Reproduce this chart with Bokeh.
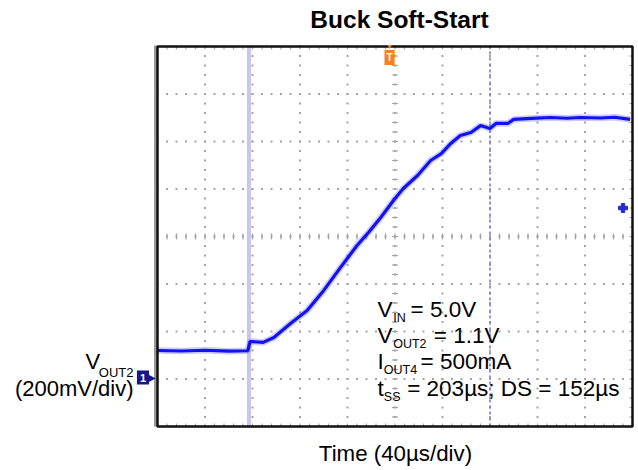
import numpy as np
from bokeh.plotting import figure
from bokeh.models import Range1d, Label, ColumnDataSource
from bokeh.embed import file_html
from bokeh.resources import INLINE

# ---------------- data (read from the scope capture) ----------------
title_text = "Buck Soft-Start"
x_label_text = "Time (40µs/div)"
ch_label_main = "V"
ch_label_sub = "OUT2"
ch_scale_text = "(200mV/div)"

# time in µs relative to screen centre, 40 µs/div, 10 divisions
t_min, t_max, t_div = -200.0, 200.0, 40.0
# volts, 200 mV/div, 8 divisions, ground one division above bottom
v_min, v_max, v_div = -0.2, 1.4, 0.2

time_us = [-200, -180, -160, -140, -124, -122, -111, -102, -88, -74, -60, -46,
           -32, -23, -12, 0, 7, 19, 30, 39, 47, 55, 64, 72, 80, 85, 95, 100,
           115, 131, 145, 156, 173, 185, 198]
v_out2 = [0.120, 0.118, 0.121, 0.117, 0.119, 0.158, 0.154, 0.175, 0.234, 0.288,
          0.373, 0.469, 0.562, 0.613, 0.680, 0.760, 0.802, 0.857, 0.920, 0.949,
          0.992, 1.025, 1.038, 1.067, 1.055, 1.076, 1.076, 1.093, 1.097, 1.101,
          1.098, 1.101, 1.099, 1.102, 1.093]

cursor_start_us = -123.0   # soft-start begins (shaded cursor)
cursor_end_us = 80.0       # soft-start ends (dashed cursor)
trigger_time_us = -4.6     # orange trigger-position marker
trigger_level = [0.72]     # blue trigger-level marker (right side)
trigger_level_t = [192.0]
ground_level = 0.0

note_lines = [
    ("V", "IN", "= 5.0V"),
    ("V", "OUT2", "= 1.1V"),
    ("I", "OUT4", "= 500mA"),
    ("t", "SS", "= 203µs; DS = 152µs"),
]

# ---------------- layout ----------------
FONT = "Liberation Sans"
W, H = 636, 468
PX_DIV = 47.5
GRAT_LEFT, GRAT_TOP = 157.0, 46.0
px_per_us = PX_DIV / t_div
px_per_v = PX_DIV / v_div
BASELINE_FIX = 0.36   # em, compensates the label baseline placement

x_start = t_min - GRAT_LEFT / px_per_us
x_end = x_start + W / px_per_us
y_end = v_max + GRAT_TOP / px_per_v
y_start = y_end - H / px_per_v

p = figure(width=W, height=H,
           x_range=Range1d(x_start, x_end), y_range=Range1d(y_start, y_end),
           x_axis_type=None, y_axis_type=None,
           toolbar_location=None, output_backend="svg",
           min_border=0, min_border_left=0, min_border_right=0,
           min_border_top=0, min_border_bottom=0)
p.title = None
p.background_fill_color = "white"
p.border_fill_color = "white"
p.outline_line_color = None

GRID_COLOR = "#a4a4a4"
major_t = np.arange(t_min + t_div, t_max - 1e-6, t_div)
major_v = np.arange(v_min + v_div, v_max - 1e-6, v_div)
minor_t = np.arange(t_min, t_max + 1e-6, t_div / 5)
minor_v = np.arange(v_min, v_max + 1e-6, v_div / 5)

# dotted graticule: one dot per minor division along each major line
gx1, gy1 = np.meshgrid(major_t, minor_v)
gx2, gy2 = np.meshgrid(minor_t, major_v)
dots_x = np.concatenate([gx1.ravel(), gx2.ravel()])
dots_y = np.concatenate([gy1.ravel(), gy2.ravel()])
p.scatter(dots_x, dots_y, marker="square", size=2, color=GRID_COLOR,
          line_width=0)

# minor ticks on the centre cross
t_c = (t_min + t_max) / 2
v_c = (v_min + v_max) / 2
h_t = 3.0 / px_per_us
h_v = 3.0 / px_per_v
p.segment(x0=t_c - h_t, x1=t_c + h_t, y0=minor_v, y1=minor_v,
          line_color=GRID_COLOR, line_width=1.2)
p.segment(x0=minor_t, x1=minor_t, y0=v_c - h_v, y1=v_c + h_v,
          line_color=GRID_COLOR, line_width=1.2)
# edge ticks
p.segment(x0=minor_t, x1=minor_t, y0=v_min, y1=v_min + h_v,
          line_color=GRID_COLOR, line_width=1.2)
p.segment(x0=minor_t, x1=minor_t, y0=v_max - h_v, y1=v_max,
          line_color=GRID_COLOR, line_width=1.2)
p.segment(x0=t_max - h_t, x1=t_max, y0=minor_v, y1=minor_v,
          line_color=GRID_COLOR, line_width=1.2)

# cursors (limited to the graticule)
p.segment(x0=[cursor_start_us], x1=[cursor_start_us], y0=[v_min], y1=[v_max],
          line_color="#c6c6ee", line_width=4)
p.segment(x0=[cursor_end_us], x1=[cursor_end_us], y0=[v_min], y1=[v_max],
          line_color="#7070d8", line_width=1.5, line_dash="3 3")

# waveform
src = ColumnDataSource(dict(t=time_us, v=v_out2))
p.line("t", "v", source=src, line_color="#6a6aff", line_width=6.5, line_alpha=0.35)
p.line("t", "v", source=src, line_color="#1212ee", line_width=3.2)

# trigger level marker
p.scatter(trigger_level_t, trigger_level, marker="plus", size=9,
          color="#2a2ad0")

# graticule border (grey bezel on the left, dark frame)
bez = 2.0 / px_per_us
p.segment(x0=[t_min - bez], x1=[t_min - bez], y0=[v_min], y1=[v_max + 1.0 / px_per_v],
          line_color="#9a9a9a", line_width=3)
p.quad(left=[t_min], right=[t_max], bottom=[v_min], top=[v_max],
       fill_color=None, line_color="#111111", line_width=2.5)


def txt(text, x, y, xo, yo, size, align="left", baseline="alphabetic",
        bold=False, color="#000000", fix=True, **kw):
    if fix:
        yo = yo + BASELINE_FIX * size
    p.add_layout(Label(x=x, y=y, x_offset=xo, y_offset=yo, text=text,
                       text_font=FONT, text_font_size=f"{size}px",
                       text_font_style="bold" if bold else "normal",
                       text_align=align, text_baseline=baseline,
                       text_color=color, **kw))


# title and axis label
txt(title_text, t_c, v_max, 4.5, 18, 24.5, align="center", bold=True)
txt(x_label_text, t_c, v_min, 0.5, -35, 22.3, align="center")

# channel label on the left
txt(ch_label_main, t_min, ground_level, -72, 9.5, 22)
txt(ch_label_sub, t_min, ground_level, -24, 1.5, 13, align="right")
txt(ch_scale_text, t_min, ground_level, -24, -17, 22, align="right")

# channel ground marker
txt("1", t_min, ground_level, -14.5, 1.5, 11, align="center", baseline="middle",
    bold=True, color="white", background_fill_color="#16168a", padding=3,
    fix=False)
txt("▶", t_min, ground_level, -10, 1.5, 10, align="left", baseline="middle",
    color="#16168a", fix=False)

# trigger position marker
txt("T", trigger_time_us, v_max, 0, -7, 10, align="center", baseline="top",
    bold=True, color="white", background_fill_color="#f5821f", padding=2)
txt("▼", trigger_time_us, v_max, 0, 1, 7, align="center", baseline="top",
    color="#f5821f")

# conditions note
base_offsets = [109, 83, 57, 30]
sub_x = [-1.8, -1.8, -11.2, -11.2]
rest_x = [15.5, 38.8, 25.5, 12.2]
for (main, sub, rest), yo, sx, rx in zip(note_lines, base_offsets, sub_x, rest_x):
    txt(main, t_c, v_min, -17.5, yo, 22.5)
    txt(sub, t_c, v_min, sx, yo - 4.5, 12.5)
    txt(rest, t_c, v_min, rx, yo, 22.5)

open("out.html", "w").write(file_html(p, INLINE))
